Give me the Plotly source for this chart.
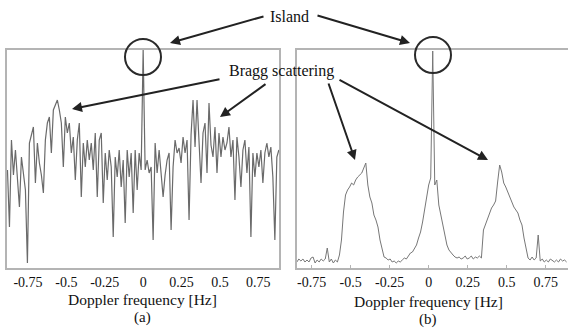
import numpy as np
import plotly.graph_objects as go

# ---------------- data ----------------
FREQ_RES = 0.013  # Hz per Doppler bin

# (a) spectrum: bins -68 .. 68
bins_a = np.arange(-68, 69)
power_a = [
    98, 41, 128, 93, 118, 83, 61, 111, 93, 78,
    5, 125, 133, 141, 85, 125, 105, 93, 75, 128,
    145, 151, 115, 158, 163, 168, 158, 145, 101, 151,
    135, 145, 115, 131, 88, 128, 145, 71, 125, 101,
    128, 108, 125, 98, 135, 71, 128, 135, 65, 115,
    88, 118, 101, 31, 111, 91, 118, 81, 108, 45,
    118, 91, 115, 55, 118, 78, 115, 98, 218, 98,
    108, 95, 101, 28, 125, 95, 118, 91, 71, 93,
    108, 115, 38, 101, 128, 115, 120, 105, 131, 115,
    128, 48, 133, 168, 121, 168, 128, 85, 135, 145,
    95, 165, 123, 111, 141, 95, 135, 111, 131, 118,
    125, 141, 111, 128, 68, 131, 111, 81, 118, 128,
    95, 121, 31, 115, 91, 115, 101, 118, 85, 115,
    125, 111, 121, 91, 28, 111, 118,
]

# (b) spectrum: bins -65 .. 68
bins_b = np.arange(-65, 69)
power_b = [
    6, 9, 7, 9, 6, 8, 6, 10, 11, 5,
    8, 6, 9, 7, 9, 20, 6, 9, 5, 8,
    6, 13, 28, 56, 73, 78, 81, 85, 83, 88,
    91, 93, 95, 100, 105, 83, 71, 65, 53, 48,
    41, 28, 18, 11, 10, 8, 9, 6, 7, 5,
    7, 6, 8, 10, 9, 12, 15, 16, 20, 23,
    30, 36, 46, 58, 71, 83, 90, 217, 83, 88,
    63, 53, 41, 31, 23, 18, 15, 13, 11, 10,
    11, 9, 10, 12, 9, 10, 12, 9, 11, 10,
    12, 10, 38, 44, 48, 55, 60, 63, 67, 86,
    103, 96, 85, 81, 76, 71, 65, 61, 58, 55,
    48, 43, 30, 18, 10, 8, 11, 8, 10, 33,
    7, 9, 6, 8, 6, 9, 7, 6, 8, 6,
    9, 7, 8, 6,
]

tick_vals = [-0.75, -0.5, -0.25, 0, 0.25, 0.5, 0.75]
tick_text = ["-0.75", "-0.5", "-0.25", "0", "0.25", "0.5", "0.75"]

freq_a = bins_a * FREQ_RES
freq_b = bins_b * FREQ_RES

# ---------------- layout helpers ----------------
W, H = 568, 329
def px(x):
    return x / W
def py(y):
    return 1 - y / H

FONT = "Liberation Serif"
BOX = "#b4b4b4"

fig = go.Figure()
fig.add_trace(go.Scatter(x=freq_a, y=power_a, mode="lines",
                         line=dict(color="#6a6a6a", width=1.2),
                         xaxis="x", yaxis="y", showlegend=False))
fig.add_trace(go.Scatter(x=freq_b, y=power_b, mode="lines",
                         line=dict(color="#777777", width=1),
                         xaxis="x2", yaxis="y2", showlegend=False))

ydom = [py(268), py(50)]
common_x = dict(tickvals=tick_vals, ticktext=tick_text, showgrid=False,
                zeroline=False, showline=True, linecolor=BOX, linewidth=1.5,
                tickfont=dict(family=FONT, size=14, color="#111"))
common_y = dict(range=[0, 218], showgrid=False, zeroline=False,
                showticklabels=False, ticks="", showline=True,
                linecolor=BOX, linewidth=1.5, domain=ydom)

fig.update_layout(
    width=W, height=H,
    margin=dict(l=0, r=0, t=0, b=0),
    paper_bgcolor="white", plot_bgcolor="white",
    font=dict(family=FONT),
    xaxis=dict(domain=[px(7), px(279)], range=[-0.887, 0.885], mirror=True,
               ticks="", anchor="y", **common_x),
    yaxis=dict(anchor="x", mirror=True, **common_y),
    xaxis2=dict(domain=[px(297), 1.0], range=[-0.844, 0.893], mirror=True,
                ticks="inside", ticklen=3, tickcolor=BOX, anchor="y2", **common_x),
    yaxis2=dict(anchor="x2", mirror=False, **common_y),
)

# circles around the island echo
for cx, cy in [(143, 57), (433, 55)]:
    fig.add_shape(type="circle", xref="paper", yref="paper",
                  x0=px(cx - 18), x1=px(cx + 18), y0=py(cy + 18), y1=py(cy - 18),
                  line=dict(color="#2a2a2a", width=2))

# texts
def text(x, y, s, size=16):
    fig.add_annotation(x=px(x), y=py(y), xref="paper", yref="paper", text=s,
                       showarrow=False, xanchor="center", yanchor="middle",
                       font=dict(family=FONT, size=size, color="#111"))

text(289, 16, "Island")
text(281, 71, "Bragg scattering")
text(142, 299, "Doppler frequency [Hz]", 15.5)
text(428, 301, "Doppler frequency [Hz]", 15.5)
text(142, 317, "(a)", 15)
text(428, 319, "(b)", 15)

# arrows: (tail x, tail y, head x, head y) in pixels
arrows = [(265, 16, 170, 43), (316, 15, 410, 43),
          (221, 79, 72, 109), (267, 83, 220, 117),
          (328, 82, 355, 160), (338, 79, 488, 160)]
for tx, ty, hx, hy in arrows:
    fig.add_annotation(x=px(hx), y=py(hy), xref="paper", yref="paper",
                       ax=tx - hx, ay=ty - hy, axref="pixel", ayref="pixel",
                       text="", showarrow=True, arrowhead=2, arrowsize=1,
                       arrowwidth=2, arrowcolor="#222", standoff=0)

fig.write_html("out.html", config={"displayModeBar": False},
               post_script="document.body.style.margin='0';document.body.style.padding='0';document.body.style.overflow='hidden';")
